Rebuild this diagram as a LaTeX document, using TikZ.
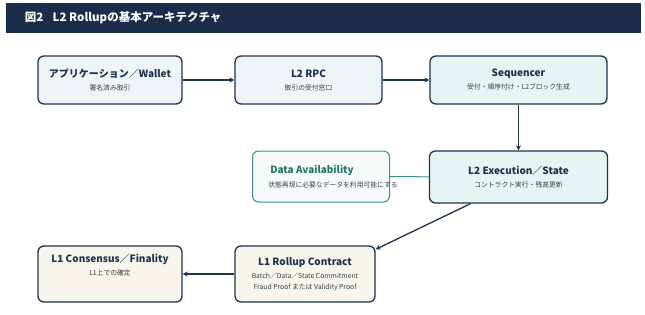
\documentclass[tikz,border=0pt]{standalone}
\usepackage{fontspec}
\setmainfont{Noto Sans CJK JP}
\usetikzlibrary{positioning,calc,arrows.meta}

\definecolor{navy}{HTML}{1E3250}
\definecolor{headbg}{HTML}{1B2D4A}
\definecolor{bluefill}{HTML}{EEF4F7}
\definecolor{tealfill}{HTML}{E6F4F3}
\definecolor{dafill}{HTML}{F6FAFB}
\definecolor{daline}{HTML}{3E8C86}
\definecolor{datext}{HTML}{1F776D}
\definecolor{lonefill}{HTML}{F8F5EC}
\definecolor{subtext}{HTML}{3A3F47}

\newcommand{\ttl}[1]{{\fontsize{10}{12}\selectfont\bfseries\color{navy}#1}}
\newcommand{\subl}[1]{{\fontsize{6.8}{8}\selectfont\color{subtext}#1}}

\begin{document}
\begin{tikzpicture}[x=1pt,y=-1pt,>={Stealth[length=5pt,width=5pt]},line width=1.3pt,
  box/.style={draw=navy, rounded corners=6pt, align=center, inner sep=2pt},
  l2box/.style={box, fill=bluefill},
  seqbox/.style={box, fill=tealfill},
  dabox/.style={box, draw=daline, line width=1pt, fill=dafill},
  lonebox/.style={box, fill=lonefill},
  link/.style={draw=navy, ->}]
    \useasboundingbox (0,0) rectangle (645,314);
    % title bar
    \fill[headbg] (6,3) rectangle (641,33);
    \node (head) [anchor=west, text=white, font=\fontsize{11.5}{13}\selectfont\bfseries] at (21,18) {図2\hspace{0.8em}L2 Rollupの基本アーキテクチャ};

    % top row
    \node (app) [l2box, minimum width=144pt, minimum height=48pt] at (110,80) {\ttl{アプリケーション／Wallet}\\[1pt]\subl{署名済み取引}};
    \node (rpc) [l2box, minimum width=147pt, minimum height=48pt] at (308.5,80) {\ttl{L2 RPC}\\[1pt]\subl{取引の受付窓口}};
    \node (seq) [seqbox, minimum width=177pt, minimum height=48pt] at (518.5,80) {\ttl{Sequencer}\\[1pt]\subl{受付・順序付け・L2ブロック生成}};

    % middle row
    \node (exec) [seqbox, minimum width=178pt, minimum height=52pt] at (518.5,177) {\ttl{L2 Execution／State}\\[1pt]\subl{コントラクト実行・残高更新}};
    \node (da) [dabox, minimum width=137pt, minimum height=51pt] at (321,176.5) {\makebox[0pt]{\hspace*{-18pt}{\fontsize{10}{12}\selectfont\bfseries\color{datext}Data Availability}}\\[2pt]\makebox[0pt]{\hspace*{24pt}\subl{状態再現に必要なデータを利用可能にする}}};

    % bottom row
    \node (fin) [lonebox, minimum width=144pt, minimum height=56pt] at (110,274) {\ttl{L1 Consensus／Finality}\\[1pt]\subl{L1上での確定}\\[6pt]};
    \node (roll) [lonebox, minimum width=140pt, minimum height=56pt] at (305,274) {\ttl{L1 Rollup Contract}\\[1pt]\subl{Batch／Data／State Commitment}\\[-1pt]\subl{Fraud Proof または Validity Proof}};

    \draw[link] (app) -- (rpc);
    \draw[link] (rpc) -- (seq);
    \draw[link] (seq) -- (exec);
    \draw[draw=daline, line width=1pt] (da) -- (exec);
    \draw[link] ([xshift=-48pt]exec.south) -- ([yshift=-4pt]roll.north east);
    \draw[link] (roll) -- (fin);
\end{tikzpicture}
\end{document}
